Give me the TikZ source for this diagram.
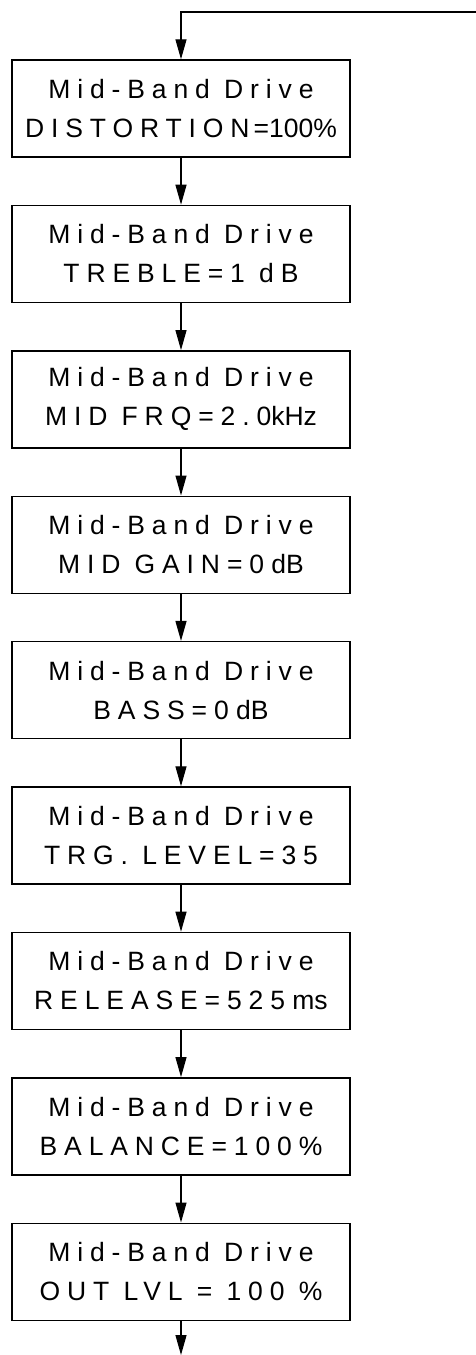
\documentclass[tikz,border=0pt]{standalone}
\usepackage{fontspec}
\setmainfont{Liberation Sans}
\newfontfamily\spaced[LetterSpace=26]{Liberation Sans}
\newfontfamily\plain{Liberation Sans}
\usepackage{tikz}
\usetikzlibrary{positioning,arrows.meta}
\tikzstyle{panel}=[rectangle, draw=black, line width=1.4pt, inner sep=0pt,
        minimum width=338pt, minimum height=97pt, align=center,
        font=\fontsize{26.5pt}{39pt}\spaced]
\tikzstyle{myarrow}=[-{Triangle[length=20pt,width=11pt]}, line width=1.2pt]

\begin{document}
\begin{tikzpicture}[node distance=47pt]
    \useasboundingbox (0,0) rectangle (476pt,-1355pt);
    \node (Distortion) [panel] at (181pt,-108.5pt)
        {Mid-Band Drive\\DISTORTION\hspace{4pt}={\plain 100\%}};
    \node (Treble) [panel, below=of Distortion]
        {Mid-Band Drive\\TREBLE=1 dB};
    \node (MidFrq) [panel, below=of Treble]
        {Mid-Band Drive\\MID FRQ=2.0{\plain kHz}};
    \node (MidGain) [panel, below=of MidFrq]
        {Mid-Band Drive\\MID GAIN=0{\plain\ dB}};
    \node (Bass) [panel, below=of MidGain]
        {Mid-Band Drive\\BASS=0{\plain\ dB}};
    \node (TrgLevel) [panel, below=of Bass]
        {Mid-Band Drive\\TRG. LEVEL=35};
    \node (Release) [panel, below=of TrgLevel]
        {Mid-Band Drive\\RELEASE=525{\plain\ ms}};
    \node (Balance) [panel, below=of Release]
        {Mid-Band Drive\\BALANCE=100\%};
    \node (OutLvl) [panel, below=of Balance]
        {Mid-Band Drive\\OUT LVL = 100 \%};
    \coordinate (Loop) at (476pt,-12pt);
    \coordinate (Exit) at (181pt,-1355pt);
    \draw[myarrow] (Loop) -| (Distortion.north);
    \draw[myarrow] (Distortion) -- (Treble);
    \draw[myarrow] (Treble) -- (MidFrq);
    \draw[myarrow] (MidFrq) -- (MidGain);
    \draw[myarrow] (MidGain) -- (Bass);
    \draw[myarrow] (Bass) -- (TrgLevel);
    \draw[myarrow] (TrgLevel) -- (Release);
    \draw[myarrow] (Release) -- (Balance);
    \draw[myarrow] (Balance) -- (OutLvl);
    \draw[myarrow] (OutLvl) -- (Exit);
\end{tikzpicture}
\end{document}
